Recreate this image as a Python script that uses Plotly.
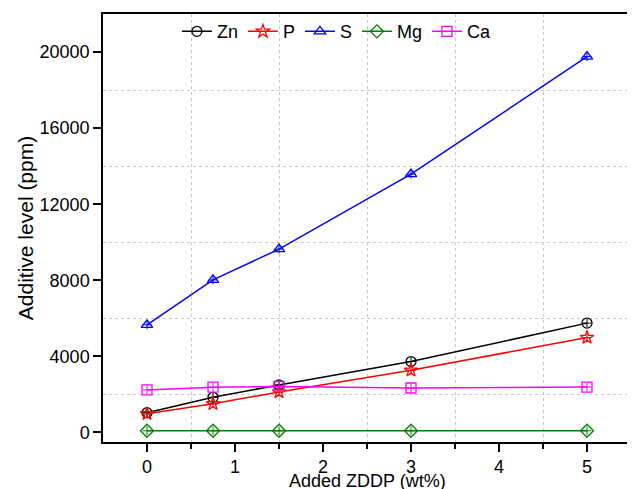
import plotly.graph_objects as go

zddp = [0, 0.75, 1.5, 3, 5]
zn = [1040, 1850, 2500, 3730, 5750]
p = [980, 1510, 2130, 3270, 4990]
s = [5660, 8020, 9640, 13580, 19760]
mg = [90, 90, 90, 90, 90]
ca = [2240, 2380, 2420, 2340, 2390]
x_ticks = [0, 1, 2, 3, 4, 5]
y_ticks = [0, 4000, 8000, 12000, 16000, 20000]

series = [
    ("Zn", zn, "black", "circle-open"),
    ("P", p, "red", "star-open"),
    ("S", s, "blue", "triangle-up-open"),
    ("Mg", mg, "green", "diamond-open"),
    ("Ca", ca, "magenta", "square-open"),
]

fig = go.Figure()
for name, vals, col, sym in series:
    fig.add_trace(go.Scatter(
        x=zddp, y=vals, name=name, mode="lines+markers",
        line=dict(color=col, width=1.5),
        marker=dict(symbol=sym, size=10, color=col, line=dict(width=1.3, color=col)),
        error_y=dict(type="constant", value=230, width=0, thickness=1, color=col),
        error_x=dict(type="constant", value=0.05, width=0, thickness=1, color=col),
    ))

font = "Liberation Sans, Arial, sans-serif"
fig.update_layout(
    width=627, height=481,
    margin=dict(l=95, r=2, t=6, b=47),
    paper_bgcolor="white", plot_bgcolor="white",
    font=dict(family=font, size=18, color="black"),
    showlegend=True,
    legend=dict(orientation="h", x=0.443, xanchor="center", y=1.002, yanchor="top",
                font=dict(size=18), bgcolor="rgba(0,0,0,0)",
                itemwidth=30, tracegroupgap=0),
    xaxis=dict(
        range=[-0.5, 5.5], tickvals=x_ticks,
        showline=True, linecolor="black", linewidth=1.5, mirror=True,
        ticks="outside", ticklen=8, tickwidth=1.5, tickcolor="black",
        showgrid=False, zeroline=False,
        minor=dict(tickvals=[0.5, 1.5, 2.5, 3.5, 4.5], ticks="outside", ticklen=5,
                   tickwidth=1.5, tickcolor="black", showgrid=True,
                   gridcolor="#c8c8c8", griddash="dot", gridwidth=1),
        tickfont=dict(size=18),
    ),
    yaxis=dict(
        range=[-500, 22000], tickvals=y_ticks, tickformat="d",
        showline=True, linecolor="black", linewidth=1.5, mirror=True,
        ticks="outside", ticklen=8, tickwidth=1.5, tickcolor="black",
        showgrid=False, zeroline=False,
        minor=dict(tickvals=[2000, 6000, 10000, 14000, 18000], ticks="",
                   showgrid=True, gridcolor="#c8c8c8", griddash="dot", gridwidth=1),
        title=dict(text="Additive level (ppm)", font=dict(size=21), standoff=0),
        tickfont=dict(size=18),
    ),
    annotations=[dict(text="Added ZDDP (wt%)", xref="paper", yref="paper",
                      x=0.5, y=-0.09, xanchor="center", yanchor="middle",
                      showarrow=False, font=dict(size=18))],
)

fig.write_html("out.html")
